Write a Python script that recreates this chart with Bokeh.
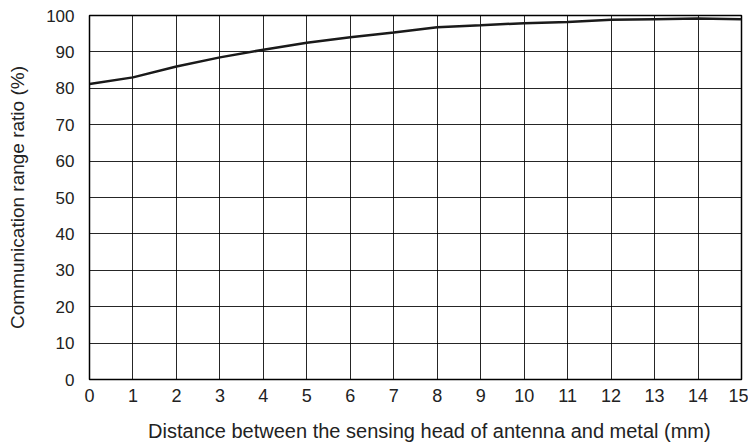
from bokeh.plotting import figure
from bokeh.embed import file_html
from bokeh.resources import INLINE
from bokeh.models import FixedTicker, Range1d

distance_mm = [0, 1, 2, 3, 4, 5, 6, 7, 8, 9, 10, 11, 12, 13, 14, 15]
range_ratio = [81.2, 83.0, 86.0, 88.5, 90.6, 92.5, 94.0, 95.3, 96.8, 97.3, 97.9, 98.2, 98.8, 99.0, 99.2, 99.0]
x_ticks = list(range(0, 16))
y_ticks = list(range(0, 101, 10))
x_title = "Distance between the sensing head of antenna and metal (mm)"
y_title = "Communication range ratio (%)"

p = figure(frame_width=652, frame_height=364, output_backend="svg", toolbar_location=None,
           x_range=Range1d(0, 15), y_range=Range1d(0, 100),
           min_border_left=89, min_border_right=7, min_border_top=15, min_border_bottom=40)

p.line(distance_mm, range_ratio, line_color="#1a1a1a", line_width=2.5)

font = "Liberation Sans"
for ax in (p.xaxis, p.yaxis):
    ax.major_tick_line_color = None
    ax.minor_tick_line_color = None
    ax.axis_line_color = "black"
    ax.major_label_text_font = font
    ax.major_label_text_color = "#222222"
    ax.axis_label_text_font = font
    ax.axis_label_text_font_style = "normal"
    ax.axis_label_text_color = "#222222"

p.xaxis.major_label_text_font_size = "18px"
p.yaxis.major_label_text_font_size = "17px"
p.xaxis.axis_label_text_font_size = "20px"
p.yaxis.axis_label_text_font_size = "19px"

p.xaxis.ticker = FixedTicker(ticks=x_ticks)
p.yaxis.ticker = FixedTicker(ticks=y_ticks)
p.xaxis.major_label_standoff = 3
p.yaxis.major_label_standoff = 9
# leading non-breaking spaces shift the centred title slightly right, as in the reference
p.xaxis.axis_label = "\u00a0" * 5 + x_title
p.yaxis.axis_label = y_title
p.xaxis.axis_label_standoff = 15
p.yaxis.axis_label_standoff = 15

p.xgrid.grid_line_color = "black"
p.ygrid.grid_line_color = "black"
p.xgrid.grid_line_alpha = 0.85
p.ygrid.grid_line_alpha = 0.85
p.xgrid.grid_line_width = 1
p.ygrid.grid_line_width = 1
p.outline_line_color = "black"
p.outline_line_width = 1.5
p.outline_line_alpha = 1

open("out.html", "w").write(file_html(p, INLINE))
